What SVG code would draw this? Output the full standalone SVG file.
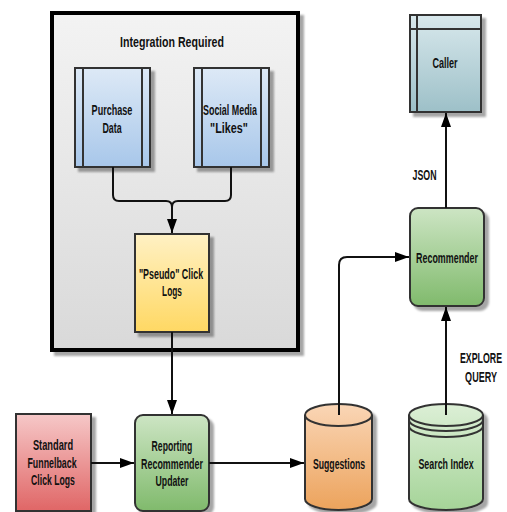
<svg xmlns="http://www.w3.org/2000/svg" width="507" height="512" viewBox="0 0 507 512">
<defs>
<style>
.t{font-family:"Liberation Sans",Arial,sans-serif;font-weight:bold;font-size:15px;fill:#111;text-anchor:middle}
.n{stroke:#333;stroke-width:2}
.c{fill:none;stroke:#111;stroke-width:2}
</style>
<filter id="sh" x="-20%" y="-20%" width="140%" height="140%"><feDropShadow dx="4" dy="4" stdDeviation="1" flood-color="#000" flood-opacity="0.35"/></filter>
<linearGradient id="gBox" x1="0" y1="0" x2="0" y2="1"><stop offset="0" stop-color="#f3f3f3"/><stop offset="1" stop-color="#d9d9d9"/></linearGradient>
<linearGradient id="gBlue" x1="0" y1="0" x2="0" y2="1"><stop offset="0" stop-color="#dde9f6"/><stop offset="1" stop-color="#a8c7ea"/></linearGradient>
<linearGradient id="gYel" x1="0" y1="0" x2="0" y2="1"><stop offset="0" stop-color="#fff1c4"/><stop offset="1" stop-color="#ffd863"/></linearGradient>
<linearGradient id="gTeal" x1="0" y1="0" x2="0" y2="1"><stop offset="0" stop-color="#d8e8ec"/><stop offset="1" stop-color="#9dc0c8"/></linearGradient>
<linearGradient id="gGreen" x1="0" y1="0" x2="0" y2="1"><stop offset="0" stop-color="#cde5c4"/><stop offset="1" stop-color="#80ba6c"/></linearGradient>
<linearGradient id="gRed" x1="0" y1="0" x2="0" y2="1"><stop offset="0" stop-color="#f6c8c8"/><stop offset="1" stop-color="#e06666"/></linearGradient>
<linearGradient id="gOr" x1="0" y1="0" x2="0" y2="1"><stop offset="0" stop-color="#fad6b6"/><stop offset="1" stop-color="#eca35c"/></linearGradient>
<linearGradient id="gLg" x1="0" y1="0" x2="0" y2="1"><stop offset="0" stop-color="#dcefd6"/><stop offset="1" stop-color="#a5d498"/></linearGradient>
<marker id="ar" viewBox="0 0 14 10" refX="14" refY="5" markerWidth="14" markerHeight="10" markerUnits="userSpaceOnUse" orient="auto"><path d="M0 0 L14 5 L0 10 z" fill="#000"/></marker>
</defs>
<rect width="507" height="512" fill="#fff"/>

<g id="integration">
<rect x="52" y="13" width="246" height="337" fill="url(#gBox)" stroke="#000" stroke-width="4" filter="url(#sh)"/>
<text class="t" transform="translate(172 47) scale(0.6 1)" textLength="173" lengthAdjust="spacingAndGlyphs">Integration Required</text>
</g>

<g id="purchase">
<rect class="n" x="75" y="68" width="75" height="99" fill="url(#gBlue)" filter="url(#sh)"/>
<path class="n" d="M83 68V167M142 68V167" fill="none"/>
<text class="t" transform="translate(112 115) scale(0.6 1)" textLength="68" lengthAdjust="spacingAndGlyphs">Purchase</text>
<text class="t" transform="translate(112 133) scale(0.6 1)" textLength="32" lengthAdjust="spacingAndGlyphs">Data</text>
</g>

<g id="social">
<rect class="n" x="194" y="68" width="75" height="99" fill="url(#gBlue)" filter="url(#sh)"/>
<path class="n" d="M202 68V167M261 68V167" fill="none"/>
<text class="t" transform="translate(230 115) scale(0.6 1)" textLength="90" lengthAdjust="spacingAndGlyphs">Social Media</text>
<text class="t" transform="translate(229 133) scale(0.6 1)" textLength="63" lengthAdjust="spacingAndGlyphs">"Likes"</text>
</g>

<g id="pseudo">
<rect class="n" x="135" y="234" width="74" height="98" fill="url(#gYel)" filter="url(#sh)"/>
<text class="t" transform="translate(171 279) scale(0.6 1)" textLength="107" lengthAdjust="spacingAndGlyphs">"Pseudo" Click</text>
<text class="t" transform="translate(172 296) scale(0.6 1)" textLength="33" lengthAdjust="spacingAndGlyphs">Logs</text>
</g>

<g id="caller">
<rect class="n" x="410" y="15" width="71" height="97" fill="url(#gTeal)" filter="url(#sh)"/>
<path class="n" d="M410 29H481M417 15V112" fill="none"/>
<text class="t" transform="translate(445 68) scale(0.6 1)" textLength="42" lengthAdjust="spacingAndGlyphs">Caller</text>
</g>

<g id="recommender">
<rect class="n" x="410" y="208" width="74" height="98" rx="8" fill="url(#gGreen)" filter="url(#sh)"/>
<text class="t" transform="translate(447 263) scale(0.6 1)" textLength="103" lengthAdjust="spacingAndGlyphs">Recommender</text>
</g>

<g id="standard">
<rect class="n" x="16" y="414" width="75" height="97" fill="url(#gRed)" filter="url(#sh)"/>
<text class="t" transform="translate(53 450) scale(0.6 1)" textLength="67" lengthAdjust="spacingAndGlyphs">Standard</text>
<text class="t" transform="translate(52 468) scale(0.6 1)" textLength="82" lengthAdjust="spacingAndGlyphs">Funnelback</text>
<text class="t" transform="translate(53 485) scale(0.6 1)" textLength="73" lengthAdjust="spacingAndGlyphs">Click Logs</text>
</g>

<g id="reporting">
<rect class="n" x="135" y="415" width="74" height="96" rx="8" fill="url(#gGreen)" filter="url(#sh)"/>
<text class="t" transform="translate(172 451) scale(0.6 1)" textLength="68" lengthAdjust="spacingAndGlyphs">Reporting</text>
<text class="t" transform="translate(172 469) scale(0.6 1)" textLength="103" lengthAdjust="spacingAndGlyphs">Recommender</text>
<text class="t" transform="translate(172 486) scale(0.6 1)" textLength="55" lengthAdjust="spacingAndGlyphs">Updater</text>
</g>

<g id="suggestions">
<path class="n" d="M305 415V499A33.5 11 0 0 0 372 499V415A33.5 11 0 0 0 305 415Z" fill="url(#gOr)" filter="url(#sh)"/>
<path class="n" d="M305 415A33.5 11 0 0 0 372 415" fill="none"/>
<text class="t" transform="translate(339 469) scale(0.6 1)" textLength="87" lengthAdjust="spacingAndGlyphs">Suggestions</text>
</g>

<g id="searchindex">
<path class="n" d="M409 415V499A37 11 0 0 0 483 499V415A37 11 0 0 0 409 415Z" fill="url(#gLg)" filter="url(#sh)"/>
<path class="n" d="M409 415A37 11 0 0 0 483 415M409 420A37 11 0 0 0 483 420M409 426A37 11 0 0 0 483 426" fill="none"/>
<text class="t" transform="translate(446 469) scale(0.6 1)" textLength="92" lengthAdjust="spacingAndGlyphs">Search Index</text>
</g>

<g id="connectors">
<path class="c" d="M113 167V195Q113 201 119 201H166Q172 201 172 207V233" marker-end="url(#ar)"/>
<path class="c" d="M231 167V195Q231 201 225 201H178Q172 201 172 207"/>
<path class="c" d="M172 332V414" marker-end="url(#ar)"/>
<path class="c" d="M91 463H134" marker-end="url(#ar)"/>
<path class="c" d="M209 463H304" marker-end="url(#ar)"/>
<path class="c" d="M339 415V265Q339 257 347 257H409" marker-end="url(#ar)"/>
<path class="c" d="M446 415V307" marker-end="url(#ar)"/>
<path class="c" d="M446 208V113" marker-end="url(#ar)"/>
<text class="t" transform="translate(424.5 180) scale(0.6 1)" textLength="40" lengthAdjust="spacingAndGlyphs">JSON</text>
<text class="t" transform="translate(481 363) scale(0.6 1)" textLength="70" lengthAdjust="spacingAndGlyphs">EXPLORE</text>
<text class="t" transform="translate(481 382) scale(0.6 1)" textLength="53" lengthAdjust="spacingAndGlyphs">QUERY</text>
</g>
</svg>
